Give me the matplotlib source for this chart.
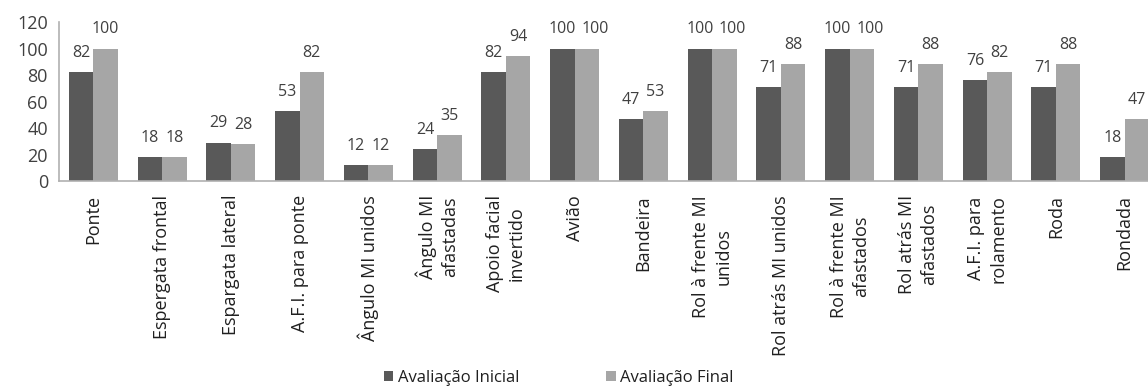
import numpy as np
import matplotlib
matplotlib.use("Agg")
import matplotlib.pyplot as plt

categories = [
    "Ponte", "Espergata frontal", "Espargata lateral", "A.F.I. para ponte",
    "Ângulo MI unidos", "Ângulo MI\nafastadas", "Apoio facial\ninvertido", "Avião",
    "Bandeira", "Rol à frente MI\nunidos", "Rol atrás MI unidos", "Rol à frente MI\nafastados",
    "Rol atrás MI\nafastados", "A.F.I. para\nrolamento", "Roda", "Rondada",
]
inicial = [82, 18, 29, 53, 12, 24, 82, 100, 47, 100, 71, 100, 71, 76, 71, 18]
final = [100, 18, 28, 82, 12, 35, 94, 100, 53, 100, 88, 100, 88, 82, 88, 47]
series_names = ["Avaliação Inicial", "Avaliação Final"]
yticks = [0, 20, 40, 60, 80, 100, 120]

plt.rcParams["font.family"] = ["Open Sans", "DejaVu Sans"]

W, H = 1148, 392
fig = plt.figure(figsize=(W / 100, H / 100), dpi=100)
left, right = 59, 1159
top, base = 22, 181
ax = fig.add_axes([left / W, 1 - base / H, (right - left) / W, (base - top) / H])

x = np.arange(len(categories))
bw = 0.355
dark, light = "#595959", "#a6a6a6"
b1 = ax.bar(x - bw / 2, inicial, bw, color=dark, label=series_names[0])
b2 = ax.bar(x + bw / 2, final, bw, color=light, label=series_names[1])

# value labels; when two wide labels sit side by side, nudge the second one right
for r1, r2, v1, v2 in zip(b1, b2, inicial, final):
    crowded = len(str(v1)) == 3 and len(str(v2)) == 3
    for r, v, dx in ((r1, v1, 0), (r2, v2, 6 if crowded else 0)):
        ax.annotate(f"{v}", (r.get_x() + r.get_width() / 2, v), xytext=(dx, 8),
                    textcoords="offset points", ha="center", va="bottom",
                    fontsize=11.5, color="#404040", annotation_clip=False)

ax.set_xlim(-0.5, len(categories) - 0.5)
ax.set_ylim(0, 120)
ax.set_yticks(yticks)
ax.tick_params(axis="y", length=0, labelsize=13, labelcolor="#404040", pad=8)
ax.set_xticks(x)
ax.set_xticklabels(categories, rotation=90, fontsize=13, color="#202020",
                   linespacing=1.3, va="top")
ax.tick_params(axis="x", length=0, pad=10)

for s in ("top", "right"):
    ax.spines[s].set_visible(False)
for s in ("left", "bottom"):
    ax.spines[s].set_color("#b0b0b0")
    ax.spines[s].set_linewidth(1.2)

fig.legend(handles=[b1, b2], loc="center", bbox_to_anchor=(559 / W, 1 - 378 / H),
           ncol=2, frameon=False, fontsize=12, handlelength=0.55, handleheight=0.55,
           handletextpad=0.3, columnspacing=5.2, labelcolor="#202020")

fig.savefig("out.png", dpi=100)
